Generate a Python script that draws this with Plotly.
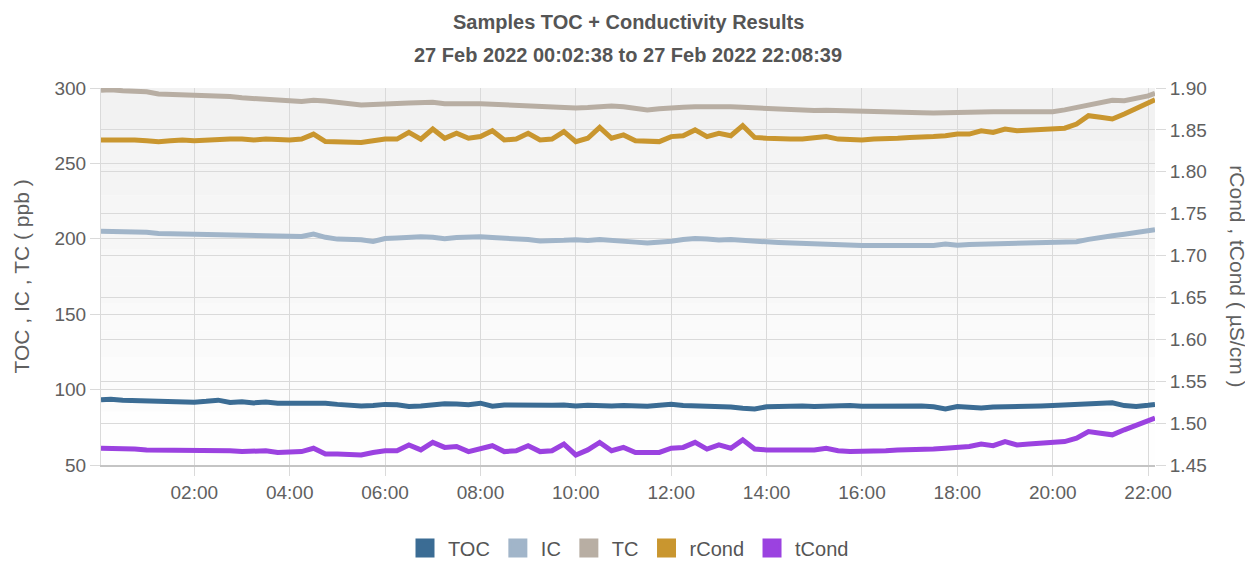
import pandas as pd
import plotly.graph_objects as go

# ---- data ----
t_start = "2022-02-27 00:02:38"
t_end = "2022-02-27 22:08:39"
times = [pd.Timestamp(t_start)] + list(pd.date_range("2022-02-27 00:15", "2022-02-27 22:00", freq="15min")) + [pd.Timestamp(t_end)]

toc = [93.2,
       93.6, 93.0, 92.8, 92.6,
       91.8, 91.6, 91.8, 91.6,
       92.2, 93.0, 91.4, 92.0,
       91.2, 91.8, 91.0, 90.9,
       91.4, 90.6, 91.0, 90.2,
       89.6, 89.2, 89.4, 90.2,
       90.0, 88.8, 89.2, 90.0,
       90.6, 90.4, 90.0, 91.0,
       89.0, 89.8, 89.6, 90.2,
       89.8, 89.6, 89.8, 89.2,
       89.6, 89.0, 89.2, 89.4,
       88.8, 89.0, 89.6, 90.2,
       89.4, 89.2, 89.0, 89.0,
       88.4, 87.6, 87.2, 88.6,
       89.0, 89.4, 89.2, 88.8,
       89.2, 89.0, 89.4, 89.0,
       89.2, 89.0, 89.4, 89.0,
       89.2, 88.6, 87.2, 88.8,
       88.4, 87.8, 88.4, 88.8,
       89.0, 88.8, 89.2, 89.4,
       89.6, 90.2, 90.4, 91.0,
       91.2, 89.4, 88.8, 89.6,
       90.2]

ic = [205.0,
      205.0, 204.8, 204.6, 204.3,
      203.5, 203.4, 203.5, 203.4,
      203.0, 202.8, 202.6, 202.5,
      202.2, 202.0, 201.8, 201.4,
      201.6, 203.2, 201.0, 199.8,
      199.6, 199.4, 198.2, 200.2,
      200.5, 201.2, 201.4, 201.0,
      200.0, 200.8, 201.2, 201.4,
      200.8, 200.5, 200.0, 199.5,
      198.6, 198.4, 199.0, 199.4,
      198.8, 199.5, 199.2, 198.6,
      197.8, 197.2, 197.6, 198.4,
      199.5, 200.2, 199.8, 199.2,
      199.5, 198.8, 198.2, 198.0,
      197.6, 197.2, 197.0, 197.2,
      196.8, 196.4, 195.8, 195.6,
      195.6, 195.5, 195.5, 195.6,
      195.5, 195.6, 196.6, 195.8,
      196.2, 196.4, 196.5, 196.6,
      196.6, 196.7, 196.8, 196.9,
      197.2, 198.0, 199.6, 201.2,
      202.0, 203.0, 204.0, 205.2,
      206.0]

tc = [298.5,
      298.8, 298.2, 297.8, 297.5,
      296.0, 295.8, 295.5, 295.4,
      295.0, 294.5, 294.3, 293.5,
      292.8, 292.5, 292.0, 291.5,
      291.0, 291.8, 291.4, 290.5,
      289.5, 288.7, 289.0, 289.8,
      289.8, 290.0, 290.3, 290.5,
      289.5, 289.8, 290.0, 289.6,
      289.2, 288.8, 288.6, 288.2,
      288.0, 288.0, 287.5, 286.8,
      287.0, 287.6, 288.0, 287.5,
      286.5, 285.5, 286.2, 287.0,
      287.2, 287.5, 287.8, 288.0,
      287.6, 287.2, 286.8, 286.2,
      285.5, 285.0, 285.2, 285.0,
      285.3, 285.0, 284.8, 284.6,
      284.2, 283.8, 283.6, 283.8,
      283.6, 283.5, 283.8, 283.6,
      283.8, 284.0, 284.3, 284.2,
      284.4, 284.3, 284.5, 284.3,
      285.5, 287.0, 288.8, 290.5,
      291.8, 291.6, 292.8, 294.8,
      296.5]

rcond = [1.838,
         1.838, 1.839, 1.838, 1.837,
         1.836, 1.837, 1.838, 1.837,
         1.838, 1.838, 1.839, 1.839,
         1.838, 1.839, 1.838, 1.838,
         1.839, 1.845, 1.836, 1.836,
         1.835, 1.835, 1.837, 1.839,
         1.839, 1.847, 1.839, 1.851,
         1.840, 1.846, 1.840, 1.842,
         1.849, 1.838, 1.839, 1.846,
         1.838, 1.839, 1.848, 1.836,
         1.840, 1.853, 1.840, 1.844,
         1.837, 1.836, 1.836, 1.842,
         1.843, 1.850, 1.842, 1.846,
         1.843, 1.855, 1.841, 1.840,
         1.839, 1.839, 1.839, 1.840,
         1.842, 1.839, 1.838, 1.838,
         1.839, 1.839, 1.840, 1.841,
         1.841, 1.842, 1.843, 1.845,
         1.845, 1.849, 1.847, 1.851,
         1.849, 1.850, 1.850, 1.851,
         1.852, 1.857, 1.867, 1.865,
         1.863, 1.869, 1.876, 1.882,
         1.886]

tcond = [1.470,
         1.470, 1.470, 1.469, 1.468,
         1.468, 1.467, 1.467, 1.468,
         1.468, 1.467, 1.467, 1.466,
         1.466, 1.467, 1.465, 1.465,
         1.466, 1.470, 1.463, 1.463,
         1.462, 1.462, 1.465, 1.467,
         1.467, 1.474, 1.468, 1.477,
         1.471, 1.472, 1.466, 1.469,
         1.473, 1.466, 1.467, 1.473,
         1.466, 1.467, 1.475, 1.462,
         1.468, 1.477, 1.467, 1.471,
         1.465, 1.465, 1.465, 1.470,
         1.471, 1.477, 1.469, 1.474,
         1.470, 1.480, 1.469, 1.468,
         1.468, 1.467, 1.467, 1.468,
         1.470, 1.467, 1.466, 1.466,
         1.467, 1.467, 1.468, 1.468,
         1.469, 1.469, 1.470, 1.471,
         1.472, 1.475, 1.473, 1.478,
         1.474, 1.475, 1.476, 1.477,
         1.478, 1.482, 1.490, 1.488,
         1.486, 1.492, 1.498, 1.503,
         1.506]

series_names = ["TOC", "IC", "TC", "rCond", "tCond"]
title_line1 = "Samples TOC + Conductivity Results"
title_line2 = "27 Feb 2022 00:02:38 to 27 Feb 2022 22:08:39"
left_title = "TOC , IC , TC ( ppb )"
right_title = "rCond , tCond ( µS/cm )"

# ---- styling ----
colors = {"TOC": "#3b6c94", "IC": "#a1b5c9", "TC": "#b8aea3", "rCond": "#c9962f", "tCond": "#9b42e0"}
FONT = "Liberation Sans, Arial, sans-serif"
GRID = "#dadada"
TXT = "#606060"

fig = go.Figure()
data_map = {"TOC": (toc, "y"), "IC": (ic, "y"), "TC": (tc, "y"), "rCond": (rcond, "y2"), "tCond": (tcond, "y2")}
for name in series_names:
    vals, ax = data_map[name]
    fig.add_trace(go.Scatter(x=times, y=vals, mode="lines", name=name, yaxis=ax,
                             line=dict(color=colors[name], width=5), showlegend=False))
# legend entries (square swatches)
for name in series_names:
    fig.add_trace(go.Scatter(x=[None], y=[None], mode="markers", name=name,
                             marker=dict(symbol="square", size=16, color=colors[name],
                                         line=dict(color=colors[name], width=3)),
                             showlegend=True))

# soft vertical gradient in the plot background
nb = 14
shapes = []
for i in range(nb):
    f = (i + 0.5) / nb  # 0 bottom .. 1 top
    g = int(round(255 - 14 * f))
    shapes.append(dict(type="rect", xref="x domain", yref="y domain", x0=0, x1=1,
                       y0=i / nb, y1=(i + 1) / nb, fillcolor=f"rgb({g},{g},{g})",
                       line=dict(width=0), layer="below"))

# the page body has an 8px default margin, so the figure is sized to fit the window
fig.update_layout(
    width=1245, height=554,
    margin=dict(l=93, r=98, t=80, b=97, autoexpand=False),
    paper_bgcolor="white", plot_bgcolor="white",
    font=dict(family=FONT, color=TXT, size=18),
    shapes=shapes,
    showlegend=True,
    legend=dict(orientation="h", x=0.5, xanchor="center", y=-0.22, yanchor="middle",
                font=dict(size=20, color="#555555"), itemsizing="trace", itemwidth=36),
    xaxis=dict(type="date", range=[t_start, t_end], tickformat="%H:%M",
               tick0="2022-02-27 00:00:00", dtick=2 * 3600 * 1000,
               showgrid=True, gridcolor=GRID, gridwidth=1,
               ticks="outside", ticklen=9, tickcolor=GRID,
               showline=True, linecolor="#c4c4c4", linewidth=2, automargin=False,
               tickfont=dict(size=19, color=TXT), zeroline=False),
    yaxis=dict(range=[50, 300], dtick=50, tick0=50, showgrid=True, gridcolor=GRID,
               ticks="outside", ticklen=10, tickcolor=GRID, automargin=False,
               showline=True, linecolor=GRID,
               tickfont=dict(size=19, color=TXT), zeroline=False),
    yaxis2=dict(range=[1.45, 1.90], dtick=0.05, tick0=1.45, tickformat=".2f",
                overlaying="y", side="right", showgrid=True, gridcolor=GRID,
                ticks="outside", ticklen=10, tickcolor=GRID, automargin=False,
                tickfont=dict(size=19, color=TXT), zeroline=False),
    annotations=[
        dict(text=f"<b>{title_line1}</b>", xref="paper", yref="paper", x=0.5, y=1.175,
             xanchor="center", yanchor="middle", showarrow=False,
             font=dict(size=20, color="#555555")),
        dict(text=f"<b>{title_line2}</b>", xref="paper", yref="paper", x=0.5, y=1.0875,
             xanchor="center", yanchor="middle", showarrow=False,
             font=dict(size=20, color="#555555")),
        dict(text=left_title, xref="paper", yref="paper", x=-0.075, y=0.5,
             xanchor="center", yanchor="middle", textangle=-90, showarrow=False,
             font=dict(size=21, color=TXT)),
        dict(text=right_title, xref="paper", yref="paper", x=1.078, y=0.5,
             xanchor="center", yanchor="middle", textangle=90, showarrow=False,
             font=dict(size=21, color=TXT)),
    ],
)

fig.write_html("out.html")
